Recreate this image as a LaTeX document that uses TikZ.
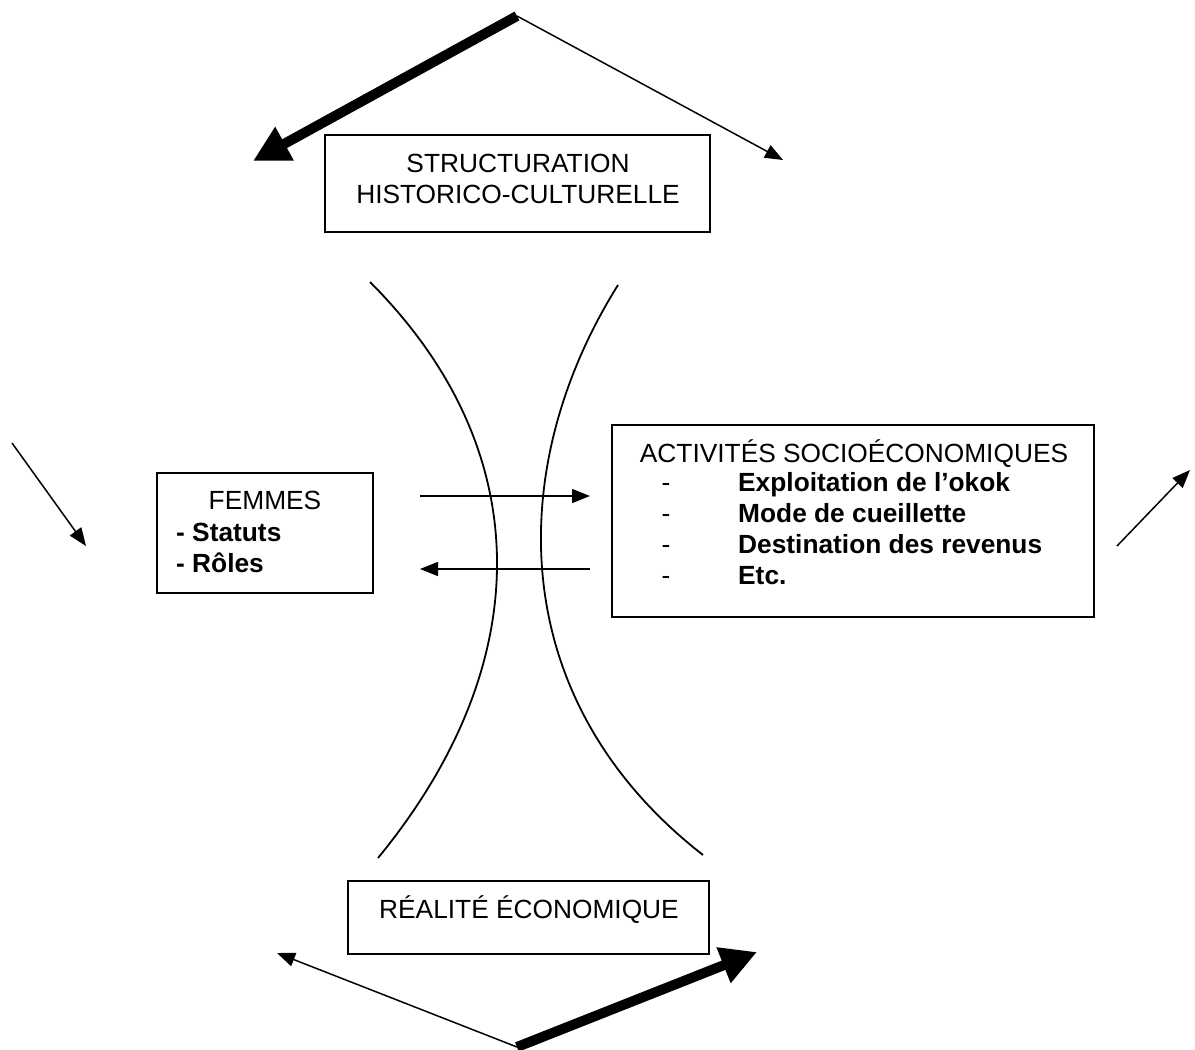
\documentclass[tikz,border=0pt]{standalone}
\usepackage{fontspec}
\setmainfont{Liberation Sans}
\usetikzlibrary{arrows.meta}
\begin{document}
\begin{tikzpicture}[x=1pt,y=-1pt,
  box/.style={draw, line width=1.4pt, inner sep=0pt},
  txt/.style={inner sep=0pt, font=\fontsize{26.3}{30.5}\selectfont},
  btxt/.style={inner sep=0pt, font=\fontsize{26.3}{30.5}\selectfont\bfseries},
  thinarrow/.style={line width=1.5pt, -{Triangle[length=18pt,width=14pt]}},
  thickarrow/.style={line width=10pt, -{Triangle[length=36pt,width=36pt]}},
  curveline/.style={line width=1.8pt}]
\useasboundingbox (0,0) rectangle (1195,1050);

% boxes
\node[box, minimum width=385pt, minimum height=97pt] (top) at (517.5,183.5) {};
\node[box, minimum width=216pt, minimum height=120pt] (fem) at (265,533) {};
\node[box, minimum width=482pt, minimum height=192pt] (act) at (853,521) {};
\node[box, minimum width=361pt, minimum height=73pt] (eco) at (528.5,917.5) {};

% texts
\node[txt, anchor=base] (t1) at (518,172) {STRUCTURATION};
\node[txt, anchor=base] (t2) at (518,203) {HISTORICO-CULTURELLE};

\node[txt, anchor=base] (f1) at (265,509) {FEMMES};
\node[btxt, anchor=base west] (f2) at (176,541) {- Statuts};
\node[btxt, anchor=base west] (f3) at (176,572) {- Rôles};

\node[txt, anchor=base] (a0) at (854,462) {ACTIVITÉS SOCIOÉCONOMIQUES};
\foreach \yy/\tt [count=\i] in {491/Exploitation de l’okok, 522/Mode de cueillette, 553/Destination des revenus, 584/Etc.}{
  \node[txt, anchor=base] (d\i) at (666,\yy) {-};
  \node[btxt, anchor=base west] (a\i) at (738,\yy) {\tt};
}

\node[txt, anchor=base] (e1) at (529,918) {RÉALITÉ ÉCONOMIQUE};

% curves
\draw[curveline] (370,282) .. controls (538,450) and (538,663) .. (378,858);
\draw[curveline] (618,285) .. controls (504,467) and (504,700) .. (703,855);

% arrow end points
\coordinate (apexT) at (517,16);
\coordinate (tl) at (253,161);
\coordinate (tr) at (783,160);
\coordinate (apexB) at (517,1047);
\coordinate (bl) at (277,953);
\coordinate (br) at (757,952);
\coordinate (ls) at (12,443);
\coordinate (le) at (86,546);
\coordinate (rs) at (1117,546);
\coordinate (re) at (1190,470);
\coordinate (m1s) at (420,496);
\coordinate (m1e) at (590,496);
\coordinate (m2s) at (590,569);
\coordinate (m2e) at (420,569);

% arrows
\draw[thickarrow] (apexT) -- (tl);
\draw[thinarrow] (apexT) -- (tr);
\draw[thinarrow] (apexB) -- (bl);
\draw[thickarrow] (apexB) -- (br);
\draw[thinarrow] (ls) -- (le);
\draw[thinarrow] (rs) -- (re);
\draw[thinarrow] (m1s) -- (m1e);
\draw[thinarrow] (m2s) -- (m2e);
\end{tikzpicture}
\end{document}
